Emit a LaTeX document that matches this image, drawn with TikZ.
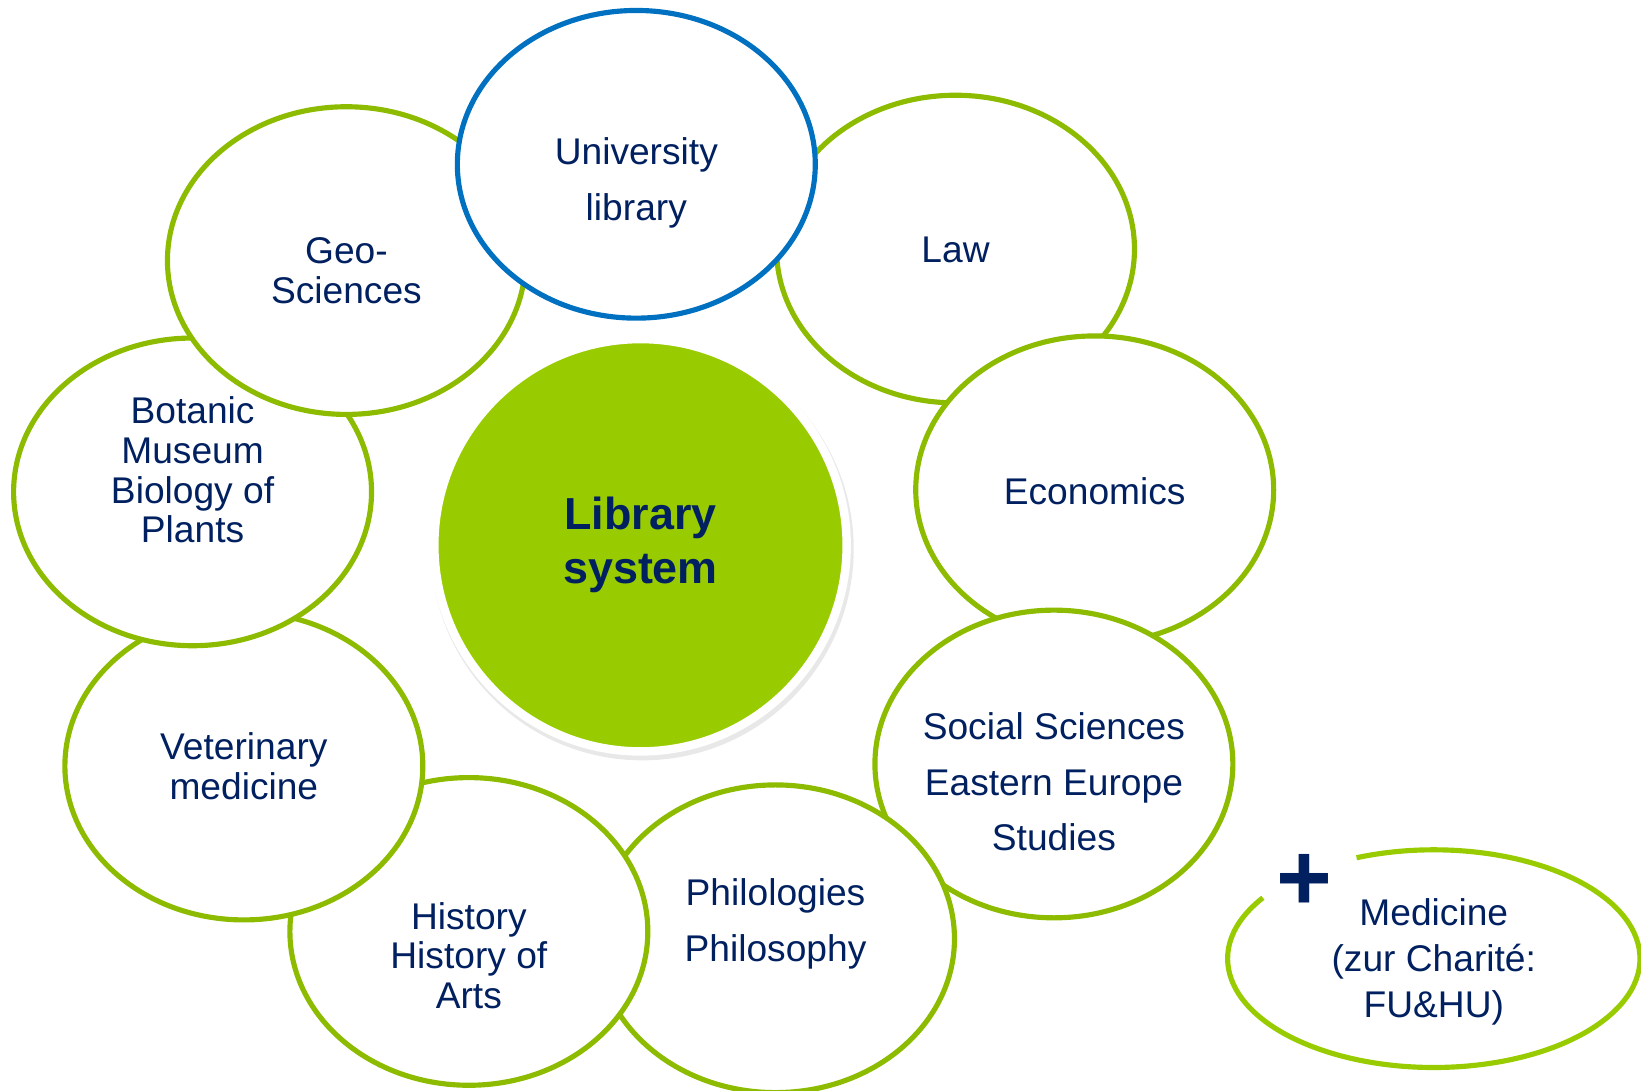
\documentclass[tikz,border=0pt]{standalone}
\usepackage{fontspec}
\setmainfont{Liberation Sans}
\usetikzlibrary{shapes.geometric,calc,shadows}

\definecolor{fuNavy}{HTML}{002060}
\definecolor{fuBlue}{HTML}{0070C0}
\definecolor{fuLine}{HTML}{8DBB00}
\definecolor{fuGreen}{HTML}{99CC00}

\begin{document}
\begin{tikzpicture}
[thick,every node/.style={text=fuNavy,align=center,inner sep=0pt,
	font=\fontsize{10.1}{10.8}\selectfont},
faculty/.style={shape=ellipse,draw=fuLine,line width=1.4pt,fill=white,
	minimum width=3.42cm,minimum height=2.94cm},
wideText/.style={font=\fontsize{10.1}{15.2}\selectfont}]
\useasboundingbox (0,0) rectangle (15.68,10.42);

% faculty libraries, lowest first
\foreach \nodeName/\xPos/\yPos in {law/9.13/8.04,eco/10.46/5.74,
	soc/10.07/3.12,phi/7.41/1.45,his/4.48/1.52,vet/2.33/3.10,
	bot/1.84/5.72,geo/3.31/7.93}
{
	\node[faculty] (\nodeName) at (\xPos,\yPos) {};
}
\node[faculty,draw=fuBlue] (uni) at (6.08,8.85) {};

\node[wideText] (uniText) at (6.08,8.67) {University\\library};
\node (geoText) at (3.31,7.83) {Geo-\\Sciences};
\node (lawText) at (9.13,8.03) {Law};
\node (botText) at (1.84,5.93) {Botanic\\Museum\\Biology of\\Plants};
\node (ecoText) at (10.46,5.73) {Economics};
\node (vetText) at (2.33,3.10) {Veterinary\\medicine};
\node[wideText] (socText) at (10.07,2.95) {Social Sciences\\Eastern Europe\\Studies};
\node (hisText) at (4.48,1.29) {History\\History of\\Arts};
\node[wideText] (phiText) at (7.41,1.59) {Philologies\\Philosophy};

% centre
\node[shape=circle,fill=fuGreen,draw=white,line width=2.3pt,minimum size=3.94cm,
	font=\fontsize{12.2}{14.7}\bfseries\selectfont,
	drop shadow={opacity=0.18,shadow xshift=0.5pt,shadow yshift=-1pt,shadow scale=1.025}]
	(sys) at (6.12,5.21) {Library\\system};

% medicine
\node[font=\fontsize{10.1}{12.4}\selectfont] (med) at (13.70,1.23) {Medicine\\(zur Charité:\\FU\&HU)};
\draw[draw=fuGreen,line width=1.4pt] ($(med)+(0,0.03)+(146:1.97 and 1.04)$)
	arc[start angle=146,end angle=472,x radius=1.97,y radius=1.04];
\node[font=\fontsize{26}{26}\bfseries\selectfont] (plus) at (12.46,1.985) {+};
\end{tikzpicture}
\end{document}
